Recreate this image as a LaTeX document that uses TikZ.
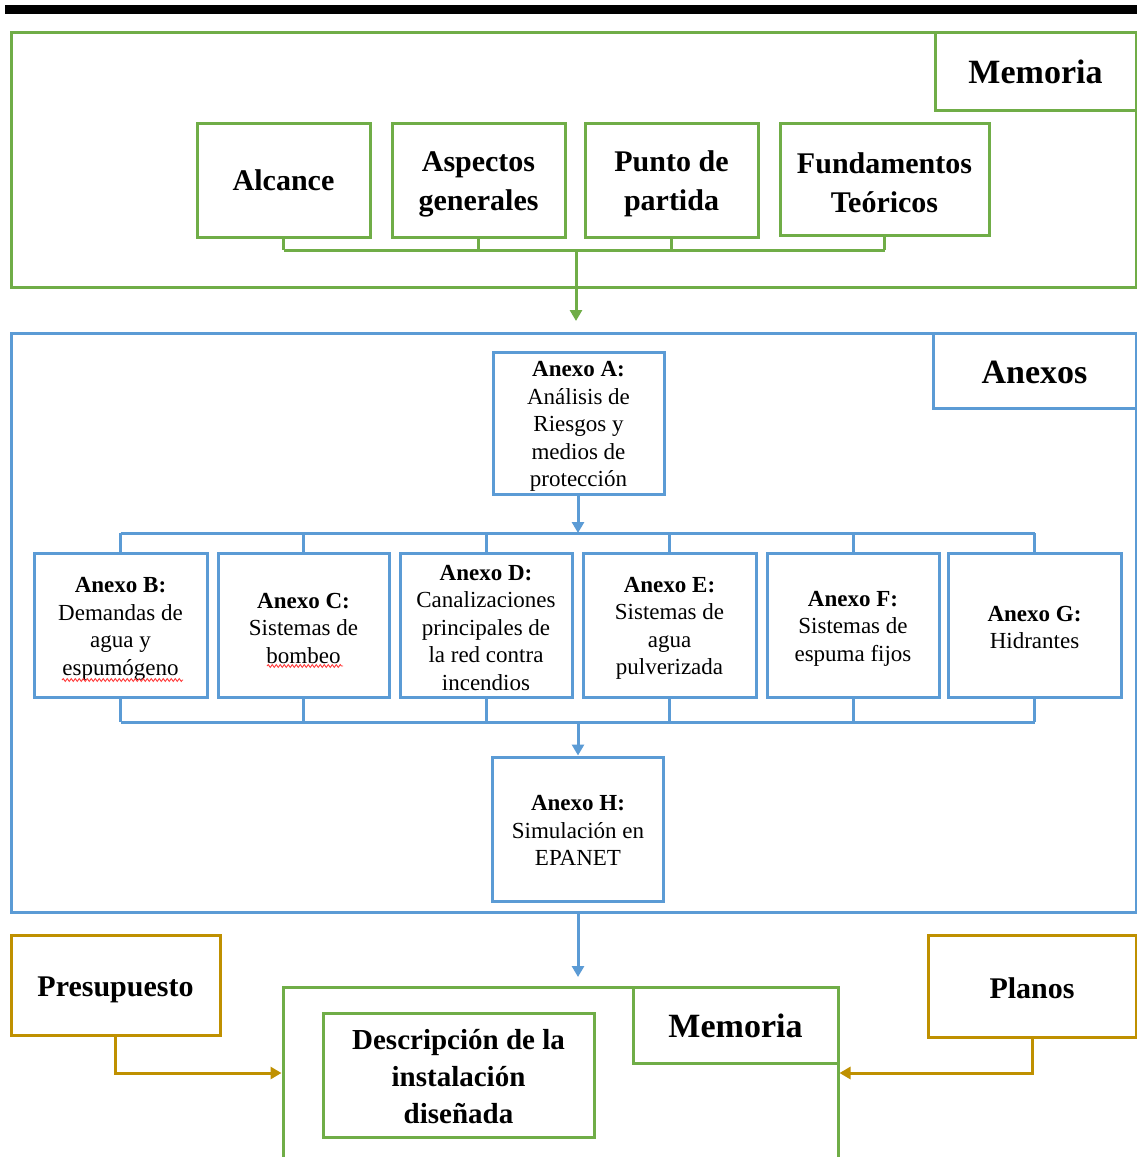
\documentclass[tikz,border=0pt]{standalone}
\usepackage{fontspec}
\setmainfont{Liberation Serif}
\usetikzlibrary{arrows.meta,calc,decorations.pathmorphing}
\definecolor{grn}{HTML}{70AD47}
\definecolor{blu}{HTML}{5B9BD5}
\definecolor{gld}{HTML}{BF9000}
\definecolor{spellred}{HTML}{FF3B3B}
% invisible strut that adds room above the first line of a box
\newcommand\firstlinegap[1]{\rule{0pt}{#1}}
\tikzset{
  box/.style={draw, line width=3pt, fill=white, inner sep=0pt, align=center, text=black},
  gbox/.style={box, draw=grn},
  bbox/.style={box, draw=blu},
  ybox/.style={box, draw=gld},
  bigtxt/.style={font=\fontsize{30}{39}\selectfont\bfseries},
  tabtxt/.style={font=\fontsize{34}{40}\selectfont\bfseries},
  anxtxt/.style={font=\fontsize{23}{27.5}\selectfont},
  gline/.style={draw=grn, line width=3pt},
  bline/.style={draw=blu, line width=3pt},
  yline/.style={draw=gld, line width=3pt},
  tipend/.style={-{Triangle[width=12pt,length=11pt]}},
  squiggle/.style={draw=spellred, line width=0.9pt,
    decorate, decoration={snake, amplitude=1.4pt, segment length=4pt}},
}
\begin{document}
\begin{tikzpicture}[x=1pt,y=-1pt]
\useasboundingbox (0,0) rectangle (1137,1157);
\clip (0,0) rectangle (1137,1157);
\fill[white] (0,0) rectangle (1137,1157);
% heavy rule across the top
\fill[black] (5,5) rectangle (1137,14);

% ---------------- Memoria (upper block) ----------------
\node[gbox, minimum width=1125pt, minimum height=255pt] (memA) at (573.5,159.5) {};
\node[gbox, tabtxt, minimum width=201pt, minimum height=78pt] (memAtab) at (1035.5,71) {\firstlinegap{26pt}Memoria};
\node[gbox, bigtxt, minimum width=173pt, minimum height=114pt] (alc) at (283.5,180) {\firstlinegap{22pt}Alcance};
\node[gbox, bigtxt, minimum width=173pt, minimum height=114pt] (asp) at (478.5,180) {\firstlinegap{29pt}Aspectos\\generales};
\node[gbox, bigtxt, minimum width=173pt, minimum height=114pt] (pun) at (671.5,180) {\firstlinegap{29pt}Punto de\\partida};
\node[gbox, bigtxt, minimum width=209pt, minimum height=112pt] (fun) at (884.5,179) {\firstlinegap{29pt}Fundamentos\\Teóricos};

\coordinate (busT) at (576,250);
\coordinate (tipT) at (576,321);
\foreach \n in {alc,asp,pun,fun} \draw[gline] (\n.south) -- (\n.south |- busT);
\draw[gline] (alc.south |- busT) -- (fun.south |- busT);
\draw[gline, tipend] (busT) -- (tipT);

% ---------------- Anexos ----------------
\node[bbox, minimum width=1125pt, minimum height=579pt] (anx) at (573.5,622.5) {};
\node[bbox, tabtxt, minimum width=203pt, minimum height=75pt] (anxtab) at (1034.5,370.5) {\firstlinegap{26pt}Anexos};

\node[bbox, anxtxt, minimum width=171pt, minimum height=142pt] (aA) at (578.5,423)
  {\firstlinegap{22pt}\textbf{Anexo A:}\\Análisis de\\Riesgos y\\medios de\\protección};

\node[bbox, anxtxt, minimum width=173pt, minimum height=144pt] (aB) at (120.5,625)
  {\firstlinegap{23pt}\textbf{Anexo B:}\\Demandas de\\agua y\\espumógeno};
\node[bbox, anxtxt, minimum width=171pt, minimum height=144pt] (aC) at (303.5,625)
  {\firstlinegap{22pt}\textbf{Anexo C:}\\Sistemas de\\bombeo};
\node[bbox, anxtxt, minimum width=172pt, minimum height=144pt] (aD) at (486,625)
  {\firstlinegap{21pt}\textbf{Anexo D:}\\Canalizaciones\\principales de\\la red contra\\incendios};
\node[bbox, anxtxt, minimum width=173pt, minimum height=144pt] (aE) at (669.5,625)
  {\firstlinegap{22pt}\textbf{Anexo E:}\\Sistemas de\\agua\\pulverizada};
\node[bbox, anxtxt, minimum width=172pt, minimum height=144pt] (aF) at (853,625)
  {\firstlinegap{22pt}\textbf{Anexo F:}\\Sistemas de\\espuma fijos};
\node[bbox, anxtxt, minimum width=173pt, minimum height=144pt] (aG) at (1034.5,625)
  {\firstlinegap{20pt}\textbf{Anexo G:}\\Hidrantes};

\node[bbox, anxtxt, minimum width=171pt, minimum height=144pt] (aH) at (578,829)
  {\firstlinegap{18pt}\textbf{Anexo H:}\\Simulación en\\EPANET};

% spell-check underlines
\draw[squiggle] ($(aB.center)+(-58.5,55)$) -- ($(aB.center)+(62.5,55)$);
\draw[squiggle] ($(aC.center)+(-36.5,41)$) -- ($(aC.center)+(39.5,41)$);

\coordinate (busA) at (578,533);
\coordinate (busB) at (578,722);
\draw[bline, tipend] (aA.south -| busA) -- (busA);
\draw[bline] (aB.north |- busA) -- (aG.north |- busA);
\draw[bline] (aB.south |- busB) -- (aG.south |- busB);
\foreach \n in {aB,aC,aD,aE,aF,aG} {
  \draw[bline] (\n.north) -- (\n.north |- busA);
  \draw[bline] (\n.south) -- (\n.south |- busB);
}
\draw[bline, tipend] (busB) -- (aH.north);

\coordinate (tipH) at (578,977);
\draw[bline, tipend] (aH.south |- anx.south) -- (tipH);

% ---------------- Memoria (lower block) ----------------
\node[gbox, minimum width=555pt, minimum height=213pt] (memB) at (560.5,1093.5) {};
\node[gbox, tabtxt, minimum width=205pt, minimum height=76pt] (memBtab) at (735.5,1025) {\firstlinegap{26pt}Memoria};
\node[gbox, font=\fontsize{29}{37}\selectfont\bfseries, minimum width=271pt, minimum height=124pt] (desc) at (458.5,1075)
  {\firstlinegap{23pt}Descripción de la\\instalación\\diseñada};

\node[ybox, bigtxt, minimum width=209pt, minimum height=100pt] (pres) at (115.5,985) {\firstlinegap{29pt}Presupuesto};
\node[ybox, bigtxt, minimum width=208pt, minimum height=102pt] (plan) at (1032,986) {\firstlinegap{25pt}Planos};

\coordinate (yl) at (0,1073);
\draw[yline, tipend] (pres.south) |- (memB.west |- yl);
\draw[yline, tipend] (plan.south) |- (memB.east |- yl);
\end{tikzpicture}
\end{document}
